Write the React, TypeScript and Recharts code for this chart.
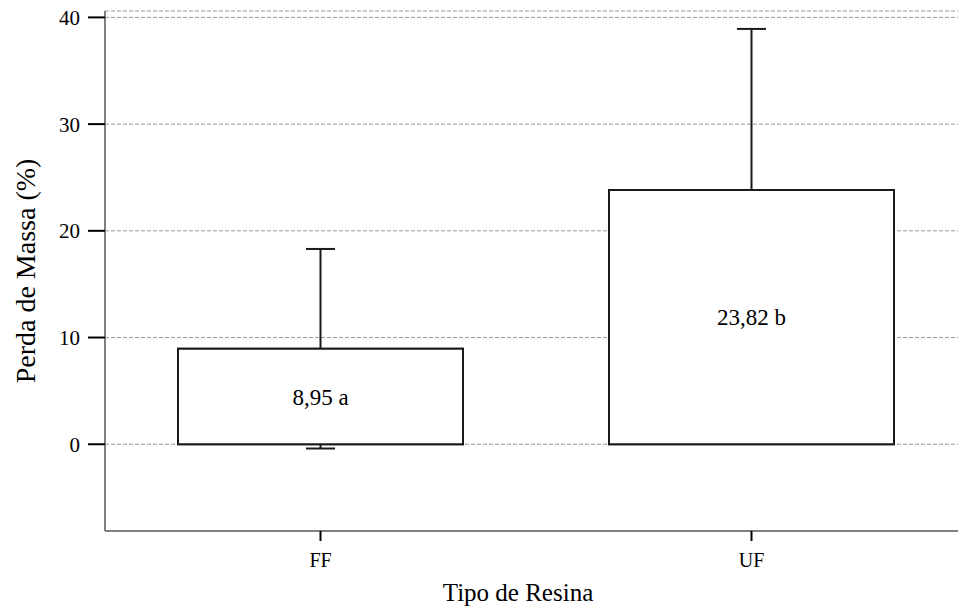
import { FC } from 'react'
import {
    Bar,
    CartesianGrid,
    ComposedChart,
    ErrorBar,
    LabelList,
    XAxis,
    YAxis,
} from 'recharts'

const categories = ['FF', 'UF']
const means = [8.95, 23.82]
const errors = [9.35, 15.1]
const barLabels = ['8,95 a', '23,82 b']
const yTicks = [0, 10, 20, 30, 40]

const data = categories.map((name, i) => ({
    name,
    mean: means[i],
    err: errors[i],
    label: barLabels[i],
}))

const FONT = '"Liberation Serif", "Times New Roman", serif'
const FRAME = '#808080'
const INK = '#1a1a1a'

const App: FC = () => {
    return (
        <div
            style={{
                position: 'absolute',
                left: 0,
                top: 0,
                width: 958,
                height: 608,
                overflow: 'hidden',
                background: '#fff',
            }}
        >
            <ComposedChart
                width={975}
                height={608}
                data={data}
                margin={{ top: 11, right: 8, left: 0, bottom: 0 }}
                style={{ fontFamily: FONT }}
            >
                <CartesianGrid
                    vertical={false}
                    stroke="#999"
                    strokeDasharray="4 2"
                    yAxisId="y"
                    xAxisId="bottom"
                />
                <XAxis
                    xAxisId="bottom"
                    dataKey="name"
                    height={77}
                    axisLine={{ stroke: FRAME, strokeWidth: 2 }}
                    tickLine={{ stroke: '#000', strokeWidth: 2 }}
                    tickSize={10}
                    tickMargin={12}
                    tick={{ fill: '#000', fontSize: 20 }}
                    label={{
                        value: 'Tipo de Resina',
                        position: 'insideBottom',
                        offset: 7,
                        dx: -18,
                        fill: '#000',
                        fontSize: 25,
                    }}
                />
                <XAxis
                    xAxisId="top"
                    dataKey="name"
                    orientation="top"
                    height={0}
                    tick={false}
                    tickLine={false}
                    axisLine={{ stroke: FRAME, strokeWidth: 2 }}
                />
                <YAxis
                    yAxisId="y"
                    width={105}
                    domain={[-8.13, 40.6]}
                    ticks={yTicks}
                    allowDataOverflow
                    axisLine={{ stroke: FRAME, strokeWidth: 2 }}
                    tickLine={{ stroke: '#000', strokeWidth: 2 }}
                    tickSize={17}
                    tickMargin={8}
                    tick={{ fill: '#000', fontSize: 21 }}
                    label={{
                        value: 'Perda de Massa (%)',
                        angle: -90,
                        position: 'insideLeft',
                        offset: 25,
                        fill: '#000',
                        fontSize: 28,
                        style: { textAnchor: 'middle' },
                    }}
                />
                <Bar
                    xAxisId="bottom"
                    yAxisId="y"
                    dataKey="mean"
                    barSize={285}
                    fill="#fff"
                    stroke={INK}
                    strokeWidth={2}
                    isAnimationActive={false}
                >
                    <ErrorBar
                        dataKey="err"
                        direction="y"
                        width={14.5}
                        stroke={INK}
                        strokeWidth={2}
                        isAnimationActive={false}
                    />
                </Bar>
                <Bar
                    xAxisId="top"
                    yAxisId="y"
                    dataKey="mean"
                    barSize={285}
                    fill="#fff"
                    stroke={INK}
                    strokeWidth={2}
                    isAnimationActive={false}
                    zIndex={900}
                >
                    <LabelList
                        dataKey="label"
                        position="center"
                        fill="#000"
                        fontSize={23}
                        fontFamily={FONT}
                    />
                </Bar>
            </ComposedChart>
        </div>
    )
}

export default App
